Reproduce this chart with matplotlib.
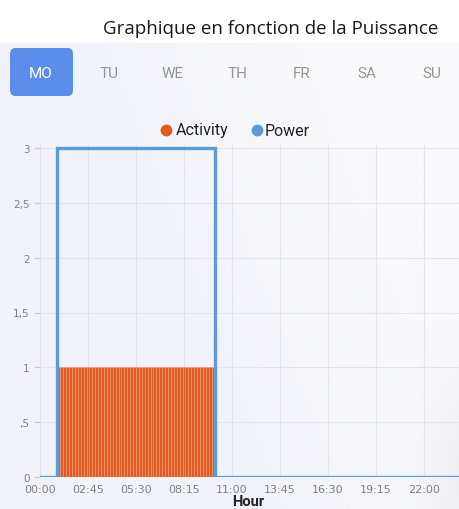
import numpy as np
import matplotlib.pyplot as plt
from matplotlib.patches import FancyBboxPatch
from matplotlib.lines import Line2D

# Day tabs
days = ['MO', 'TU', 'WE', 'TH', 'FR', 'SA', 'SU']
selected_day = 'MO'

# Power per hour of the day (00h..23h)
power = [0, 3, 3, 3, 3, 3, 3, 3, 3, 3, 0, 0,
         0, 0, 0, 0, 0, 0, 0, 0, 0, 0, 0, 0]

# Activity per 10-minute slot (144 slots over the day)
activity = [0] * 6 + [1] * 54 + [0] * 84

xtick_labels = ['00:00', '02:45', '05:30', '08:15', '11:00',
                '13:45', '16:30', '19:15', '22:00']
ytick_labels = ['0', ',5', '1', '1,5', '2', '2,5', '3']

W, H = 460, 510
fig = plt.figure(figsize=(W / 100, H / 100), dpi=100, facecolor='white')

def fx(px):
    return px / W

def fy(py):
    return 1 - py / H

# soft lavender background with a lighter diagonal sweep
bg = fig.add_axes([0, 0, 1, fy(44)], zorder=-10)
gx, gy = np.meshgrid(np.linspace(0, 1, 230), np.linspace(0, 1, 240))
base = np.array([242, 243, 250]) / 255
light = np.array([250, 250, 252]) / 255
grey = np.array([230, 230, 232]) / 255
t = np.clip((gx - 0.4) * 1.8 + (0.6 - gy) * 0.7, 0, 1)
img = base * (1 - t[..., None]) + light * t[..., None]
g = np.clip((gx - 0.88) * 8, 0, 1) * np.clip((gy - 0.55) * 3, 0, 1)
img = img * (1 - g[..., None] * 0.5) + grey * g[..., None] * 0.5
bg.imshow(img, aspect='auto', extent=[0, 1, 0, 1], origin='upper')
bg.axis('off')

# title
fig.text(fx(271), fy(29), 'Graphique en fonction de la Puissance',
         ha='center', va='center', fontsize=13.5, color='#1a1a1a',
         family='Open Sans')

# day tabs
tab_x = [41, 109, 173, 238, 302, 367, 432]
for d, x in zip(days, tab_x):
    if d == selected_day:
        box = FancyBboxPatch((fx(10), fy(97)), fx(63), fy(49) - fy(97),
                             boxstyle='round,pad=0,rounding_size=0.012',
                             transform=fig.transFigure, fc='#5a8eea',
                             ec='none', zorder=1)
        fig.patches.append(box)
        col = 'white'
    else:
        col = '#959595'
    fig.text(fx(x), fy(74), d, ha='center', va='center', fontsize=11,
             color=col, family='Roboto', zorder=2)

# legend
for mx, tx, label, col in [(166, 176, 'Activity', '#e4571f'),
                           (257, 265, 'Power', '#5b9bd8')]:
    fig.add_artist(Line2D([fx(mx)], [fy(131)], marker='o', ms=8.5,
                          color=col, mec='none', transform=fig.transFigure))
    fig.text(fx(tx), fy(131), label, ha='left', va='center',
             fontsize=11.5, color='#222222', family='Roboto')

# chart
ax = fig.add_axes([fx(40), fy(478), fx(459) - fx(40), fy(146) - fy(478)])
ax.set_facecolor('none')

slot_min = np.arange(len(activity)) * 10
ax.bar(slot_min + 5, activity, width=10, color='#e35b20',
       edgecolor='#f0a27c', linewidth=0.4, zorder=2)

hours_min = np.arange(len(power) + 1) * 60
ax.step(hours_min, power + [power[-1]], where='post', color='#5b9bd8',
        lw=2.4, zorder=3, solid_joinstyle='miter')

ax.set_xlim(0, 1440)
ax.set_ylim(0, 3 * (478 - 146) / (478 - 149))
ax.set_xticks(np.arange(len(xtick_labels)) * 165)
ax.set_xticklabels(xtick_labels)
ax.set_yticks(np.arange(len(ytick_labels)) * 0.5)
ax.set_yticklabels(ytick_labels)
ax.tick_params(axis='both', labelsize=7.5, labelcolor='#808080',
               color='#cccccc', length=4, width=0.8)
ax.tick_params(axis='x', length=0, pad=5, labelsize=8)
ax.grid(True, color='#e4e4ea', lw=0.8, zorder=0)
for s in ['top', 'right', 'bottom']:
    ax.spines[s].set_visible(False)
ax.spines['left'].set_color('#e0e0e6')

fig.text(fx(248), fy(509), 'Hour', ha='center', va='bottom',
         fontsize=10.5, color='#222222', family='Roboto', fontweight='bold')

fig.savefig('out.png', dpi=100)
